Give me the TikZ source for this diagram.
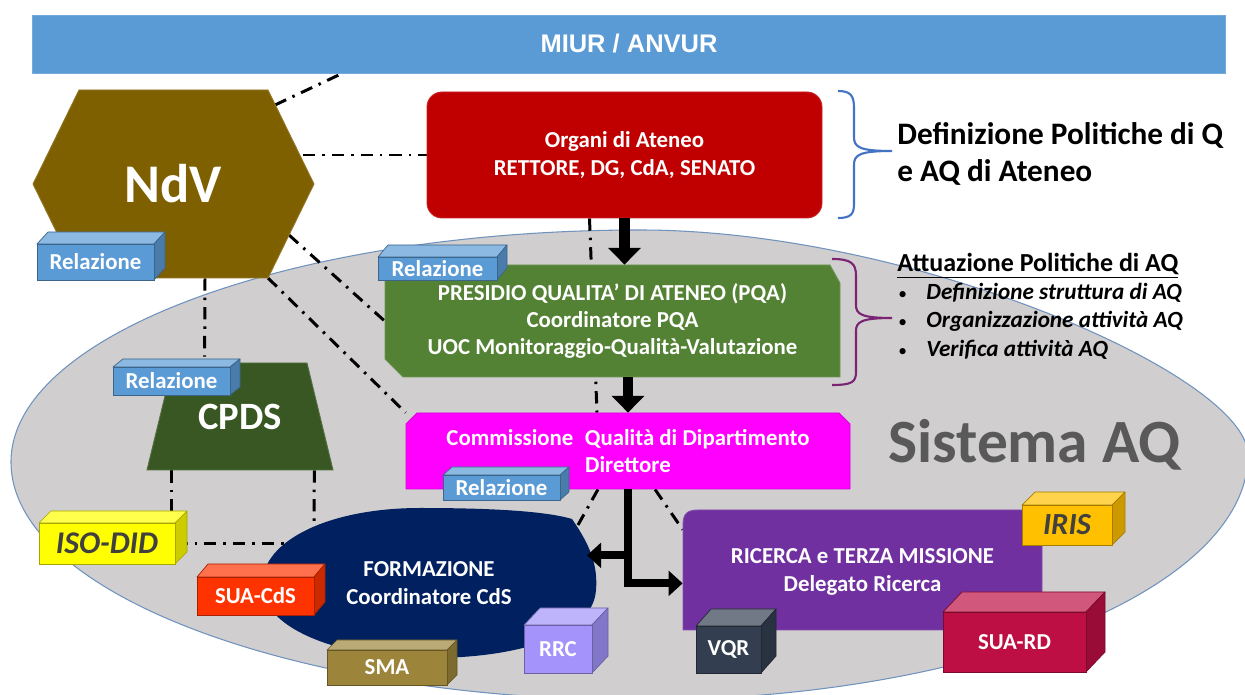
\documentclass[tikz,border=0pt]{standalone}
\usepackage{fontspec}
\setmainfont{Carlito}
\newfontfamily\arialfont{Liberation Sans}
\usetikzlibrary{arrows.meta,calc}
\pgfdeclarelayer{ell}
\pgfdeclarelayer{conn}
\pgfdeclarelayer{shp}
\pgfsetlayers{ell,conn,shp,main}

\definecolor{miurblue}{HTML}{5B9BD5}
\definecolor{ndvbrown}{HTML}{7F6000}
\definecolor{orgred}{HTML}{C00000}
\definecolor{pqagreen}{HTML}{548235}
\definecolor{cpdsgreen}{HTML}{385723}
\definecolor{cqdmag}{HTML}{FF00FF}
\definecolor{formnavy}{HTML}{002060}
\definecolor{rtmpurple}{HTML}{7030A0}
\definecolor{ellgrey}{HTML}{D0CECE}
\definecolor{ellline}{HTML}{6F93BE}
\definecolor{relblue}{HTML}{5B9BD5}
\definecolor{irisgold}{HTML}{FFC000}
\definecolor{suardred}{HTML}{BE0F45}
\definecolor{suacdsred}{HTML}{FF3300}
\definecolor{smaolive}{HTML}{9C853A}
\definecolor{rrclav}{HTML}{A393FA}
\definecolor{vqrslate}{HTML}{333F50}
\definecolor{isoyellow}{HTML}{FFFF00}
\definecolor{darktext}{HTML}{404040}
\definecolor{sistgrey}{HTML}{595959}
\definecolor{bracblue}{HTML}{4472C4}
\definecolor{bracpurple}{HTML}{7B2374}

\tikzset{
  dd/.style={line width=1.7pt, dash pattern=on 7pt off 4pt on 1.4pt off 4pt, black},
  lbl/.style={inner sep=0pt, text=white, align=center, font=\fontsize{13}{15.5}\selectfont\bfseries},
  bigarrow/.style={line width=6pt, -{Triangle[width=18pt,length=9.5pt]}},
  smallarrow/.style={line width=4.5pt, -{Triangle[width=14pt,length=8pt]}},
  cubefront/.style={inner sep=0pt, line width=0.4pt, text=white, font=\fontsize{13}{15}\selectfont\bfseries},
  outtext/.style={anchor=base west, inner sep=0pt},
}

\newcommand{\cubebox}[9]{%
  \fill[#8!70!white, draw=#8!65!black, line width=0.4pt, line join=round] (#2,#3) -- (#2+#6,#3-#7) -- (#4+#6,#3-#7) -- (#4,#3) -- cycle;
  \fill[#8!80!black, draw=#8!65!black, line width=0.4pt, line join=round] (#4,#3) -- (#4+#6,#3-#7) -- (#4+#6,#5-#7) -- (#4,#5) -- cycle;
  \node[cubefront, fill=#8, draw=#8!65!black, minimum width={(#4-#2)*0.02cm}, minimum height={(#5-#3)*0.02cm}] (#1) at ({(#2+#4)/2},{(#3+#5)/2}) {#9};
}

\begin{document}
\begin{tikzpicture}[x=0.02cm,y=-0.02cm]
\useasboundingbox (0,0) rectangle (1245,695);

% ---------- background and the grey "Sistema AQ" oval
\begin{pgfonlayer}{ell}
\fill[white] (0,0) rectangle (1245,695);
\clip (0,0) rectangle (1245,695);
\filldraw[fill=ellgrey, draw=ellline, line width=0.6pt]
  (11,462) .. controls (11,334) and (294,230) .. (640,230)
  .. controls (914,230) and (1248,376) .. (1248,455)
  .. controls (1248,590) and (974,700) .. (640,700)
  .. controls (294,700) and (11,593) .. (11,462) -- cycle;
\end{pgfonlayer}

% ---------- main nodes
\node[fill=miurblue, draw=miurblue!85!white, line width=0.5pt, minimum width=1193*0.02cm, minimum height=58*0.02cm, inner sep=0pt, text=white, font=\arialfont\fontsize{14.5}{16}\selectfont\bfseries] (miur) at (629,44) {MIUR / ANVUR};

\node[lbl, font=\fontsize{31}{33}\selectfont\bfseries, minimum width=281*0.02cm, minimum height=188*0.02cm] (ndv) at (173.5,184) {\raisebox{-1.5pt}{NdV}};

\node[lbl, fill=orgred, draw=orgred!85!white, line width=0.5pt, rounded corners=0.3cm, minimum width=395*0.02cm, minimum height=126*0.02cm] (org) at (624.5,155) {Organi di Ateneo\\RETTORE, DG, CdA, SENATO};

\node[lbl, minimum width=455*0.02cm, minimum height=112*0.02cm] (pqa) at (612.5,321) {PRESIDIO QUALITA’ DI ATENEO (PQA)\\Coordinatore PQA\\UOC Monitoraggio-Qualità-Valutazione};

\node[lbl, minimum width=444*0.02cm, minimum height=76*0.02cm] (cqd) at (628,451) {Commissione\enspace Qualità di Dipartimento\\Direttore};

\node[lbl, font=\fontsize{22}{24}\selectfont\bfseries, minimum width=186*0.02cm, minimum height=107*0.02cm] (cpds) at (240,416.5) {\raisebox{-3.5pt}{CPDS}};

\node[lbl, minimum width=334*0.02cm, minimum height=150*0.02cm] (form) at (429,583) {FORMAZIONE\\Coordinatore CdS};

\node[lbl, minimum width=359*0.02cm, minimum height=120*0.02cm] (rtm) at (862.5,572) {RICERCA e TERZA MISSIONE\\Delegato Ricerca};

% ---------- shapes behind the texts
\begin{pgfonlayer}{shp}
\fill[ndvbrown, draw=ndvbrown!85!white, line width=0.5pt] (79,90) -- (268,90) -- (314,184) -- (268,278) -- (79,278) -- (33,184) -- cycle;
\fill[pqagreen, draw=pqagreen!85!white, line width=0.5pt] (385,265) -- (830,265) -- (840,283) -- (840,377) -- (403,377) -- (385,359) -- cycle;
\fill[cqdmag, draw=cqdmag!85!black, line width=0.5pt] (417,413) -- (839,413) -- (850,424) -- (850,489) -- (406,489) -- (406,424) -- cycle;
\fill[cpdsgreen, draw=cpdsgreen!85!white, line width=0.5pt] (173,363) -- (307,363) -- (333,470) -- (147,470) -- cycle;
\fill[formnavy] (572,519) .. controls (590,545) and (598,565) .. (596,590)
  .. controls (593,635) and (520,658) .. (430,658)
  .. controls (330,658) and (262,625) .. (262,585)
  .. controls (262,540) and (330,508) .. (420,508)
  .. controls (490,508) and (545,511) .. (572,519) -- cycle;
\fill[rtmpurple, draw=rtmpurple!85!white, line width=0.5pt] (683,630) -- (683,525) .. controls (683,514) and (687,510) .. (698,510) -- (1042,510) -- (1042,630) -- cycle;
\end{pgfonlayer}

% ---------- 3D labels
\cubebox{relndv}{37}{244}{154}{280}{11}{12}{relblue}{Relazione}
\cubebox{relpqa}{378}{257}{497}{280}{10}{12}{relblue}{Relazione}
\cubebox{relcpds}{113}{367}{230}{395}{10}{8}{relblue}{Relazione}
\cubebox{relcqd}{443}{475}{560}{500}{9}{8}{relblue}{Relazione}
\cubebox{iso}{39}{523}{175}{564}{12}{12}{isoyellow}{\color{darktext}\fontsize{18}{20}\selectfont\itshape ISO-DID}
\cubebox{suacds}{197}{577}{314}{615}{11}{13}{suacdsred}{SUA-CdS}
\cubebox{sma}{327}{650}{447}{685}{10}{10}{smaolive}{SMA}
\cubebox{rrc}{524}{625}{592}{673}{16}{17}{rrclav}{RRC}
\cubebox{vqr}{696}{626}{761}{673}{15}{17}{vqrslate}{VQR}
\cubebox{iris}{1022}{505}{1112}{545}{13}{13}{irisgold}{\color{darktext}\fontsize{17.5}{19}\selectfont\itshape IRIS}
\cubebox{suard}{943}{612}{1086}{672}{19}{20}{suardred}{SUA-RD}

% ---------- connection points
\coordinate (ndvA) at (275,105);
\coordinate (ndvB) at (303,155);
\coordinate (ndvC) at (289,235);
\coordinate (ndvD) at (268,278);
\coordinate (ndvE) at ($(ndv.south)+(31.5,0)$);
\coordinate (cpdsA) at ($(cpds.south west)+(25,0)$);
\coordinate (cpdsB) at ($(cpds.south east)+(-19,0)$);
\coordinate (formA) at (578,525);
\coordinate (formB) at (314,528);
\coordinate (formC) at (285,543.5);

% ---------- dash-dot relations
\begin{pgfonlayer}{conn}
\draw[dd] (ndvA) -- ($(miur.south west)+(310,0)$);
\draw[dd] (ndvB) -- (org.west);
\draw[dd] (ndvC) -- (pqa.west);
\draw[dd] (ndvD) -- (cqd.north west);
\draw[dd] (ndvE) -- ($(relcpds.north west)+(92,-10)$);
\draw[dd] (cpdsA) -- ($(iso.north west)+(133,-10)$);
\draw[dd] (cpdsB) -- (formB);
\draw[dd] (iso.east) -- (formC);
\draw[dd] ($(org.south)+(-35,0)$) -- ($(cqd.north)+(-31,0)$);
\draw[dd] ($(cqd.south)+(-30,0)$) -- (formA);
\draw[dd] ($(cqd.south)+(27,0)$) -- ($(rtm.north west)+(0,18)$);
\end{pgfonlayer}

% ---------- thick arrows
\draw[bigarrow] (org.south) -- (org.south |- pqa.north);
\draw[bigarrow] (cqd.north |- pqa.south) -- (cqd.north);
\coordinate (split) at ($(cqd.south)+(0,98)$);
\coordinate (brA) at ($(cqd.south)+(0,66)$);
\coordinate (brB) at ($(cqd.south)+(0,94)$);
\draw[line width=4.5pt] (cqd.south) -- (split);
\draw[smallarrow] (brA) -- ($(brA)+(-41,0)$);
\draw[smallarrow] (brB) -- (brB -| rtm.west);

% ---------- braces
\draw[bracblue, line width=1.2pt] (838,91) .. controls (851,91) and (854,96) .. (854,108) -- (854,137)
  .. controls (854,147) and (859,151) .. (892,151)
  .. controls (859,151) and (854,155) .. (854,165) -- (854,204)
  .. controls (854,214) and (851,218) .. (838,218);
\draw[bracpurple, line width=1.2pt] (832,259) .. controls (852,259) and (856,264) .. (856,276) -- (856,305)
  .. controls (856,314) and (861,318) .. (892,318)
  .. controls (861,318) and (856,322) .. (856,331) -- (856,372)
  .. controls (856,382) and (852,385) .. (832,385);

% ---------- side texts
\node[outtext, font=\fontsize{17.8}{20}\selectfont\bfseries] (defq1) at (897,145) {Definizione Politiche di Q};
\node[outtext, font=\fontsize{17.8}{20}\selectfont\bfseries] (defq2) at (897,182) {e AQ di Ateneo};
\node[outtext, font=\fontsize{14.8}{17}\selectfont\bfseries] (att) at (897,272) {\underline{Attuazione Politiche di AQ}};
\node[outtext, font=\fontsize{13.2}{15}\selectfont\bfseries\itshape] (att1) at (898,300) {\makebox[16pt][l]{\upshape\mdseries\scalebox{0.75}{•}}Definizione struttura di AQ};
\node[outtext, font=\fontsize{13.2}{15}\selectfont\bfseries\itshape] (att2) at (898,328) {\makebox[16pt][l]{\upshape\mdseries\scalebox{0.75}{•}}Organizzazione attività AQ};
\node[outtext, font=\fontsize{13.2}{15}\selectfont\bfseries\itshape] (att3) at (898,357) {\makebox[16pt][l]{\upshape\mdseries\scalebox{0.75}{•}}Verifica attività AQ};
\node[outtext, text=sistgrey, font=\fontsize{35}{37}\selectfont\bfseries] (sist) at (888,463) {Sistema AQ};

\end{tikzpicture}
\end{document}
